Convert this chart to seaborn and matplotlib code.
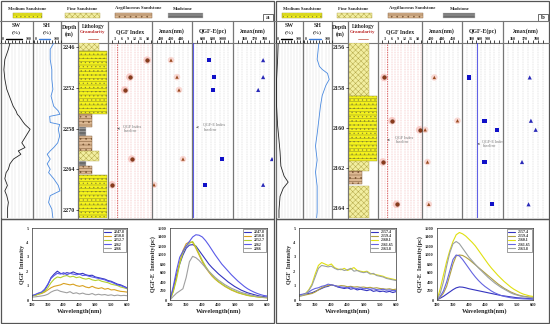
import pandas as pd
import seaborn as sns
import matplotlib.pyplot as plt
from matplotlib.patches import Rectangle

sns.set_style("white")
plt.rcParams['font.family'] = ['Liberation Serif', 'DejaVu Serif']
plt.rcParams['font.weight'] = 'bold'
plt.rcParams['hatch.linewidth'] = 0.35

W, H = 550, 324

# ---------------- data ----------------
litho_names = ["Medium Sandstone", "Fine Sandstone", "Argillaceous Sandstone", "Mudstone"]
litho_keys = ["Medium", "Fine", "Argillaceous", "Mudstone"]

# panel a - well logs
a_log_depth = [2245.4, 2246.3, 2247.8, 2249.3, 2250.7, 2252.2, 2253.2, 2254.7, 2255.4, 2255.9,
               2256.2, 2257.1, 2257.4, 2258.1, 2259.1, 2260.1, 2260.8, 2261.3, 2261.8, 2262.5,
               2263.2, 2264.0, 2264.5, 2265.4, 2266.4, 2267.2, 2267.9, 2268.9, 2269.9, 2271.2]
a_sw = [28, 23, 12, 9, 12, 18, 26, 38, 47, 51, 57, 70, 75, 91, 78, 65, 75, 54, 62, 39,
        28, 23, 16, 12, 20, 12, 18, 23, 20, 20]
a_sh = [73, 60, 60, 66, 66, 70, 63, 73, 90, 96, 58, 60, 95, 90, 95, 88, 73, 60, 49, 60,
        49, 60, 54, 73, 90, 96, 60, 54, 66, 70]
a_litho_top = [2245.37, 2246.6, 2255.9, 2257.8, 2259.1, 2261.3, 2262.8, 2263.5, 2264.9]
a_litho_base = [2246.6, 2255.9, 2257.8, 2259.1, 2261.3, 2262.8, 2263.5, 2264.7, 2271.2]
a_litho_type = ["Fine", "Medium", "Argillaceous", "Mudstone", "Argillaceous", "Fine",
                "Mudstone", "Argillaceous", "Medium"]
a_smp_depth = [2247.9, 2250.4, 2252.3, 2262.5, 2266.3]
a_qgf_index = [17.8, 9.8, 7.5, 10.7, 1.6]
a_lmax_qgf = [420, 432, 436, 444, 386]
a_qgfe = [720, 820, 800, 980, 626]
a_lmax_qgfe = [378, 378, 373, 387, 378]

# panel b - well logs
b_sw_depth = [2155.8, 2156.6, 2157.6, 2158.9, 2159.9, 2160.6, 2161.2, 2161.9, 2162.4,
              2162.7, 2163.0, 2163.4, 2164.1, 2164.5]
b_sw = [8, 6, 2, 2, 6, 11, 15, 18, 30, 45, 27, 15, 11, 11]
b_sh_depth = [2155.8, 2156.6, 2156.95, 2157.1, 2157.3, 2157.6, 2157.9, 2158.4, 2158.9, 2159.6,
              2160.3, 2160.9, 2161.6, 2162.2, 2162.9, 2163.5, 2164.2, 2164.5]
b_sh = [53, 47, 55, 65, 84, 90, 78, 65, 59, 53, 47, 41, 47, 41, 47, 47, 47, 45]
b_litho_top = [2155.79, 2158.44, 2161.67, 2162.17, 2162.87]
b_litho_base = [2158.44, 2161.67, 2162.17, 2162.77, 2164.48]
b_litho_type = ["Fine", "Medium", "Fine", "Argillaceous", "Fine"]
b_smp_depth = [2157.5, 2159.65, 2160.1, 2161.7, 2163.8]
b_qgf_index = [2.6, 6.2, 18.9, 2.0, 8.3]
b_lmax_qgf = [425.4, 467.3, 408.8, 413, 415.4]
b_qgfe = [199, 772, 1250, 772, 1050]
b_lmax_qgfe = [374, 375, 379, 367.5, 373]

# spectra
wl = [300, 310, 320, 330, 340, 350, 360, 370, 380, 390, 400, 410, 420, 430, 440, 450,
      460, 470, 480, 490, 500, 510, 520, 530, 540, 550, 560, 570, 580, 590, 600]
a_spec_labels = ["2247.8", "2250.8", "2252.7", "2262", "2266"]
a_qgf_1 = [0.30, 0.35, 0.45, 0.50, 0.70, 1.05, 1.55, 1.80, 2.00, 1.85, 1.80, 1.90, 1.85, 1.95, 1.85, 1.80,
           1.85, 1.75, 1.70, 1.72, 1.60, 1.55, 1.50, 1.45, 1.35, 1.30, 1.20, 1.10, 1.05, 0.95, 0.85]
a_qgf_2 = [0.30, 0.32, 0.40, 0.45, 0.55, 0.70, 0.85, 0.95, 1.00, 1.05, 1.15, 1.10, 1.05, 1.10, 1.00, 0.95,
           1.00, 0.90, 0.85, 0.95, 0.85, 0.80, 0.85, 0.75, 0.80, 0.70, 0.72, 0.65, 0.60, 0.58, 0.55]
a_qgf_3 = [0.28, 0.33, 0.40, 0.48, 0.60, 0.85, 1.20, 1.45, 1.60, 1.55, 1.65, 1.70, 1.60, 1.65, 1.55, 1.60,
           1.50, 1.45, 1.50, 1.40, 1.35, 1.40, 1.30, 1.25, 1.20, 1.10, 1.05, 1.00, 0.90, 0.85, 0.78]
a_qgf_4 = [0.30, 0.38, 0.48, 0.55, 0.75, 1.10, 1.50, 1.70, 1.85, 1.80, 1.90, 1.75, 1.85, 1.80, 1.75, 1.80,
           1.70, 1.72, 1.65, 1.60, 1.55, 1.50, 1.45, 1.40, 1.30, 1.25, 1.15, 1.05, 1.00, 0.92, 0.82]
a_qgf_5 = [0.20, 0.22, 0.25, 0.28, 0.32, 0.40, 0.55, 0.65, 0.70, 0.60, 0.55, 0.50, 0.58, 0.45, 0.50, 0.42,
           0.48, 0.40, 0.38, 0.45, 0.35, 0.40, 0.35, 0.38, 0.32, 0.36, 0.30, 0.34, 0.30, 0.32, 0.30]
a_qgfe_1 = [0, 250, 550, 800, 1000, 1150, 1220, 1230, 1200, 1100, 1000, 900, 800, 720, 650, 580,
            520, 460, 400, 350, 300, 260, 220, 190, 160, 140, 120, 100, 85, 75, 65]
a_qgfe_2 = [0, 200, 500, 850, 1100, 1250, 1290, 1280, 1150, 1000, 850, 720, 620, 530, 460, 400,
            350, 300, 260, 220, 190, 160, 140, 120, 100, 90, 80, 70, 60, 55, 50]
a_qgfe_3 = [0, 180, 450, 800, 1050, 1200, 1260, 1300, 1180, 1030, 880, 750, 640, 550, 470, 410,
            360, 310, 270, 230, 200, 170, 145, 125, 105, 90, 80, 70, 60, 55, 50]
a_qgfe_4 = [0, 300, 650, 950, 1080, 1200, 1300, 1400, 1450, 1440, 1400, 1320, 1220, 1110, 1000, 900,
            800, 720, 640, 560, 490, 420, 360, 300, 250, 210, 175, 145, 120, 100, 90]
a_qgfe_5 = [0, 80, 150, 200, 250, 500, 850, 970, 940, 880, 800, 720, 640, 570, 500, 440,
            390, 340, 300, 260, 230, 200, 170, 150, 130, 110, 95, 80, 70, 60, 55]

b_spec_labels = ["2157.4", "2159.4", "2160.1", "2161.65", "2163.8"]
b_qgf_1 = [0.30, 0.35, 0.40, 0.45, 0.50, 0.60, 0.70, 0.80, 0.90, 0.95, 1.05, 1.00, 0.90, 0.85, 0.80, 0.85,
           0.75, 0.80, 0.70, 0.75, 0.70, 0.65, 0.72, 0.60, 0.65, 0.58, 0.62, 0.55, 0.60, 0.52, 0.58]
b_qgf_2 = [0.25, 0.30, 0.35, 0.40, 0.45, 0.55, 0.70, 0.85, 0.95, 1.00, 1.05, 1.00, 0.95, 1.00, 0.98, 0.92,
           0.95, 0.90, 0.92, 0.88, 0.90, 0.85, 0.88, 0.82, 0.85, 0.80, 0.78, 0.75, 0.78, 0.72, 0.75]
b_qgf_3 = [0.30, 0.35, 0.45, 0.70, 1.10, 1.80, 2.40, 2.60, 2.50, 2.40, 2.50, 2.25, 2.15, 2.10, 2.20, 2.05,
           2.15, 2.25, 2.05, 2.00, 1.95, 2.00, 1.85, 1.80, 1.75, 1.70, 1.65, 1.55, 1.50, 1.45, 1.40]
b_qgf_4 = [0.35, 0.40, 0.45, 0.55, 0.70, 0.80, 0.85, 0.95, 1.00, 1.10, 1.05, 1.00, 0.95, 0.90, 0.88, 0.85,
           0.90, 0.82, 0.80, 0.85, 0.78, 0.80, 0.75, 0.78, 0.72, 0.70, 0.75, 0.68, 0.70, 0.65, 0.66]
b_qgf_5 = [0.28, 0.32, 0.40, 0.65, 1.00, 1.60, 2.20, 2.40, 2.35, 2.30, 2.35, 2.20, 2.10, 2.15, 2.05, 2.10,
           2.20, 2.00, 2.05, 1.95, 1.90, 1.95, 1.80, 1.85, 1.70, 1.65, 1.60, 1.50, 1.45, 1.40, 1.35]
b_qgfe_1 = [0, 40, 80, 130, 180, 230, 270, 290, 285, 270, 250, 235, 220, 205, 190, 175,
            160, 145, 130, 115, 100, 90, 80, 70, 60, 50, 45, 40, 35, 30, 25]
b_qgfe_2 = [0, 60, 150, 300, 550, 800, 980, 1000, 990, 950, 900, 840, 780, 720, 660, 600,
            540, 480, 420, 360, 310, 260, 220, 180, 150, 120, 100, 85, 75, 65, 60]
b_qgfe_3 = [0, 250, 550, 850, 1100, 1300, 1450, 1500, 1470, 1420, 1350, 1280, 1200, 1100, 1000, 900,
            800, 710, 630, 550, 480, 410, 350, 290, 240, 200, 160, 130, 110, 90, 80]
b_qgfe_4 = [0, 80, 200, 400, 650, 900, 1000, 980, 900, 800, 700, 600, 510, 430, 360, 300,
            250, 200, 160, 130, 100, 80, 65, 50, 40, 35, 30, 25, 22, 20, 18]
b_qgfe_5 = [0, 150, 400, 750, 1050, 1250, 1300, 1250, 1150, 1050, 950, 870, 790, 710, 640, 570,
            500, 440, 380, 330, 280, 240, 200, 160, 130, 110, 90, 75, 65, 55, 50]

a_palette = ['#3434c0', '#d8a020', '#b4d030', '#5a5ae8', '#a0a0a0']
b_palette = ['#3434c0', '#b0a040', '#e0e010', '#6464e0', '#9aa0a0']

# ---------------- styles ----------------
LITHO = {
    "Medium": dict(fc="#f4f21c", ec="#8c8a2a", hatch="-----....", w=1.0),
    "Fine": dict(fc="#f2eea0", ec="#b4a84a", hatch="xxxxxx", w=0.72),
    "Argillaceous": dict(fc="#dcb892", ec="#7a5634", hatch="-----...", w=0.47),
    "Mudstone": dict(fc="#6c6c6c", ec="#c8c8c8", hatch="-----", w=0.27),
}
LINE = '#777777'
TOP_LEG, HEAD_BOT, TRACK_BOT = 20.5, 43, 218


def frac_rect(x0, y0, x1, y1):
    return [x0 / W, 1 - y1 / H, (x1 - x0) / W, (y1 - y0) / H]


fig = plt.figure(figsize=(5.5, 3.24), dpi=100)
ov = fig.add_axes([0, 0, 1, 1])
ov.set_xlim(0, W)
ov.set_ylim(H, 0)
ov.axis('off')


def track(ox, x0, x1, dlim):
    ax = fig.add_axes(frac_rect(ox + x0, HEAD_BOT, ox + x1, TRACK_BOT))
    ax.set_ylim(dlim[1], dlim[0])
    ax.patch.set_alpha(0)
    for s in ax.spines.values():
        s.set_visible(False)
    ax.set_yticks([])
    ax.xaxis.set_ticks_position('top')
    ax.tick_params(axis='x', length=0, pad=1.2, labelsize=3)
    return ax


def draw_panel(ox, cols, tag, tag_y, leg_pos, dlim, dticks,
               sw_d, sw, sh_d, sh, l_top, l_base, l_type,
               smp, qgf, lq, qe, lqe, lims, ticks, q_base, e_base, ann):
    # frame and dividers
    ov.add_patch(Rectangle((ox + 0.5, 0.5), 273, TRACK_BOT, fill=False, lw=0.9, ec='#555555'))
    ov.plot([ox, ox + 273.5], [TOP_LEG, TOP_LEG], color=LINE, lw=0.8)
    ov.plot([ox, ox + 273.5], [HEAD_BOT, HEAD_BOT], color=LINE, lw=0.8)
    for c in cols[1:-1]:
        ov.plot([ox + c, ox + c], [TOP_LEG, TRACK_BOT], color=LINE, lw=0.9)

    # lithology legend strip
    for name, key, (cx, s0, s1) in zip(litho_names, litho_keys, leg_pos):
        st = LITHO[key]
        ov.text(ox + cx, 8.5, name, ha='center', va='center', fontsize=3.3, fontweight='bold')
        ov.add_patch(Rectangle((ox + s0, 13), s1 - s0, 4.5, fc=st['fc'], ec=st['ec'],
                               hatch=st['hatch'], lw=0.3))
    ov.add_patch(Rectangle((ox + 263, tag_y), 9.5, 7, fill=False, lw=0.5, ec='#333'))
    ov.text(ox + 267.8, tag_y + 3.6, tag, ha='center', va='center', fontsize=5, fontweight='bold')

    # header texts
    c = [(cols[i] + cols[i + 1]) / 2 for i in range(len(cols) - 1)]
    for i, name, col in [(0, 'SW', 'k'), (1, 'SH', '#3a7ad8')]:
        ov.text(ox + c[i], 25.5, name, ha='center', va='center', fontsize=4.2)
        ov.text(ox + c[i], 32, '(%)', ha='center', va='center', fontsize=3.8)
        ov.text(ox + cols[i] + 2, 38.5, '0', ha='left', va='center', fontsize=2.8)
        ov.plot([ox + cols[i] + 6, ox + cols[i + 1] - 11], [38.5, 38.5], color=col, lw=1.0)
        ov.text(ox + cols[i + 1] - 2, 38.5, '100', ha='right', va='center', fontsize=2.8)
    ov.text(ox + c[2], 27, 'Depth', ha='center', va='center', fontsize=4.2)
    ov.text(ox + c[2], 34, '(m)', ha='center', va='center', fontsize=4.2)
    ov.text(ox + c[3], 26.5, 'Lithology', ha='center', va='center', fontsize=4.0)
    ov.text(ox + c[3], 32.5, 'Granularity', ha='center', va='center', fontsize=3.6, color='#c03030')
    ov.plot([ox + c[3] - 5, ox + c[3] + 5], [38.5, 38.5], color='#c05040', lw=0.5)
    for i, t in zip(range(4, 8), ['QGF Index', 'λmax(nm)', 'QGF-E(pc)', 'λmax(nm)']):
        ov.text(ox + c[i], 31.5, t, ha='center', va='center', fontsize=4.2)

    # SW / SH logs
    ax = track(ox, cols[0] + 1, cols[1], dlim)
    ax.set_xlim(0, 100)
    ax.set_xticks([])
    ax.set_xticks(range(0, 101, 11), minor=True)
    ax.grid(which='minor', axis='x', color='#d8d8d8', lw=0.3)
    sns.lineplot(x=sw, y=sw_d, orient='y', estimator=None, color='#222222', lw=0.6, ax=ax)
    ax = track(ox, cols[1] + 1, cols[2], dlim)
    ax.set_xlim(0, 100)
    ax.set_xticks([])
    ax.set_xticks(range(0, 101, 11), minor=True)
    ax.grid(which='minor', axis='x', color='#d8d8d8', lw=0.3)
    sns.lineplot(x=sh, y=sh_d, orient='y', estimator=None, color='#4a8ae0', lw=0.6, ax=ax)

    # lithology column with depth labels
    ax = track(ox, cols[3] + 0.5, cols[4], dlim)
    ax.set_xlim(0, 1.02)
    ax.set_xticks([])
    for t, b, k in zip(l_top, l_base, l_type):
        st = LITHO[k]
        ax.barh((t + b) / 2, st['w'], height=b - t, left=0, color=st['fc'], edgecolor=st['ec'],
                hatch=st['hatch'], lw=0.3)
    ax.set_yticks(dticks)
    ax.set_yticklabels([str(d) for d in dticks])
    ax.tick_params(axis='y', left=True, length=2, width=0.5, pad=0.5, labelsize=4.3)

    # sample tracks
    names = ['QGF', 'L1', 'QE', 'L2']
    vals = [qgf, lq, qe, lqe]
    axes = {}
    for j, (nm, v) in enumerate(zip(names, vals)):
        ax = track(ox, cols[4 + j] + 0.5, cols[5 + j], dlim)
        ax.set_xlim(*lims[j])
        ax.set_xticks(ticks[j])
        ax.set_xticklabels([str(t) for t in ticks[j]])
        axes[nm] = ax
    # grid lines
    ax = axes['QGF']
    ax.set_xticks([1.5, 4.5, 7.5, 10.5, 13.5, 16.5, 19.5], minor=True)
    ax.grid(which='both', axis='x', color='#ee9a9a', lw=0.35, ls=(0, (2, 1.5)))
    ax.axvline(q_base, color='#d04040', lw=0.5, ls=(0, (2, 1.5)))
    for nm in ['L1', 'QE', 'L2']:
        axes[nm].set_xticks(
            [lims_ for lims_ in
             [axes[nm].get_xlim()[0] + k * (axes[nm].get_xlim()[1] - axes[nm].get_xlim()[0]) / 9
              for k in range(1, 9)]], minor=True)
        axes[nm].grid(which='minor', axis='x', color='#c8c8c8', lw=0.35, ls=(0, (2, 1.5)))
    axes['QE'].axvline(e_base, color='#3a3ae0', lw=0.8, alpha=0.8)

    sns.scatterplot(x=qgf, y=smp, s=30, color='#f6b0a8', alpha=0.6, edgecolor='none', ax=axes['QGF'])
    sns.scatterplot(x=qgf, y=smp, s=7, color='#8b3a1a', edgecolor='#5a2a10', lw=0.3, ax=axes['QGF'])
    sns.scatterplot(x=lq, y=smp, s=22, color='#f6c0b8', alpha=0.6, edgecolor='none', ax=axes['L1'])
    sns.scatterplot(x=lq, y=smp, s=6, marker='^', color='#9a4a20', edgecolor='none', ax=axes['L1'])
    sns.scatterplot(x=qe, y=smp, s=9, marker='s', color='#1010c8', edgecolor='none', ax=axes['QE'])
    sns.scatterplot(x=lqe, y=smp, s=9, marker='^', color='#2a2ab8', edgecolor='none', ax=axes['L2'])
    for a_ in axes.values():
        a_.set_ylim(dlim[1], dlim[0])
        a_.set_xlabel('')
        a_.set_ylabel('')

    # baseline annotations
    (qx, qd), (ex, ed) = ann
    axes['QGF'].annotate('QGF Index\nbaseline', xy=(q_base, qd), xytext=(qx, qd),
                         textcoords='data', fontsize=3, color='#777777', fontweight='normal',
                         va='center', ha='left',
                         arrowprops=dict(arrowstyle='->', color='#555555', lw=0.4))
    axes['QE'].annotate('QGF-E Index\nbaseline', xy=(e_base, ed), xytext=(ex, ed),
                        textcoords='data', fontsize=3, color='#777777', fontweight='normal',
                        va='center', ha='left',
                        arrowprops=dict(arrowstyle='->', color='#555555', lw=0.4))


def spectrum(rect_px, curves, labels, palette, ylim, yticks, ylabel):
    ax = fig.add_axes(frac_rect(*rect_px))
    df = pd.concat([pd.DataFrame({'wl': wl, 'val': v, 'depth': lab}) for v, lab in zip(curves, labels)])
    sns.lineplot(data=df, x='wl', y='val', hue='depth', palette=palette, estimator=None,
                 lw=0.8, ax=ax)
    ax.set_xlim(300, 600)
    ax.set_ylim(*ylim)
    ax.set_xticks([300, 350, 400, 450, 500, 550, 600])
    ax.set_yticks(yticks)
    ax.tick_params(labelsize=3.2, length=1.5, width=0.4, pad=1, direction='out')
    ax.set_xlabel('Wavelength(nm)', fontsize=4.6, fontweight='bold', labelpad=0.5)
    ax.set_ylabel(ylabel, fontsize=4.4, fontweight='bold', labelpad=1)
    for s in ax.spines.values():
        s.set_linewidth(0.5)
        s.set_color('#333333')
    h, l = ax.get_legend_handles_labels()
    ax.legend(h, l, loc='upper right', fontsize=2.8, handlelength=1.8, labelspacing=0.05,
              borderpad=0.3, frameon=True, fancybox=False, edgecolor='#555555',
              framealpha=1, borderaxespad=0.2)
    ax.get_legend().get_frame().set_linewidth(0.4)
    return ax


# ---------------- panel a ----------------
draw_panel(0, [0, 33, 61, 78, 108, 152, 192, 233, 273], 'a', 13.5,
           [(27, 13, 42), (82, 65, 100), (138, 115, 152), (183, 168, 203)],
           (2245.37, 2271.2), [2246, 2252, 2258, 2264, 2270],
           a_log_depth, a_sw, a_log_depth, a_sh, a_litho_top, a_litho_base, a_litho_type,
           a_smp_depth, a_qgf_index, a_lmax_qgf, a_qgfe, a_lmax_qgfe,
           [(0, 20), (383, 462), (380, 1200), (348, 388)],
           [[3, 6, 9, 12, 15, 18], [400, 420, 440], [600, 800, 1000], [360, 370, 380]],
           4, 400, ((6.5, 2258.0), (600, 2257.8)))

# ---------------- panel b ----------------
draw_panel(275, [0, 28, 57, 73, 103, 147, 187, 228, 273], 'b', 14,
           [(27, 7, 47), (78, 62, 97), (137, 113, 148), (185, 168, 200)],
           (2155.79, 2164.48), [2156, 2158, 2160, 2162, 2164],
           b_sw_depth, b_sw, b_sh_depth, b_sh, b_litho_top, b_litho_base, b_litho_type,
           b_smp_depth, b_qgf_index, b_lmax_qgf, b_qgfe, b_lmax_qgfe,
           [(0, 20), (404, 475.5), (-63, 1474), (351.9, 389.4)],
           [[3, 6, 9, 12, 15, 18], [420, 440, 460], [300, 600, 900], [360, 370, 380]],
           4, 500, ((7.5, 2160.6), (680, 2160.8)))

# ---------------- spectra ----------------
ov.add_patch(Rectangle((0.5, TRACK_BOT + 1), 273, H - TRACK_BOT - 2, fill=False, lw=0.9, ec='#555555'))
ov.add_patch(Rectangle((275.5, TRACK_BOT + 1), 273, H - TRACK_BOT - 2, fill=False, lw=0.9, ec='#555555'))

spectrum((32, 228, 127, 300), [a_qgf_1, a_qgf_2, a_qgf_3, a_qgf_4, a_qgf_5], a_spec_labels,
         a_palette, (0, 5), [0, 1, 2, 3, 4, 5], 'QGF  Intensity')
spectrum((170, 228, 267, 300), [a_qgfe_1, a_qgfe_2, a_qgfe_3, a_qgfe_4, a_qgfe_5], a_spec_labels,
         a_palette, (0, 1600), list(range(0, 1601, 200)), 'QGF-E  Intensity(pc)')
spectrum((299, 228, 396, 300), [b_qgf_1, b_qgf_2, b_qgf_3, b_qgf_4, b_qgf_5], b_spec_labels,
         b_palette, (0, 5), [0, 1, 2, 3, 4, 5], 'QGF  Intensity')
spectrum((437, 228, 533, 300), [b_qgfe_1, b_qgfe_2, b_qgfe_3, b_qgfe_4, b_qgfe_5], b_spec_labels,
         b_palette, (0, 1600), list(range(0, 1601, 200)), 'QGF-E  Intensity(pc)')

fig.savefig('out.png', dpi=100)
